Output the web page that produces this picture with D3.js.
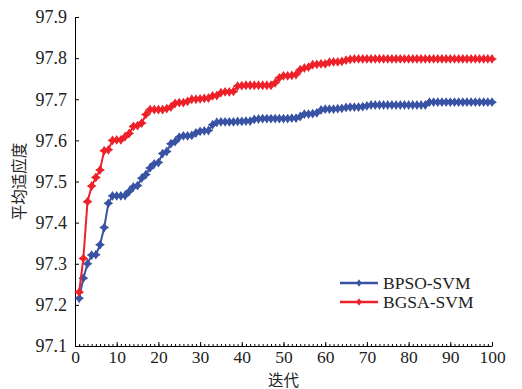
<!DOCTYPE html>
<html>
<head>
<meta charset="utf-8">
<script src="https://d3js.org/d3.v7.min.js"></script>
<style>
  body { margin: 0; background: #fff; }
  .tick text { font-family: "Liberation Serif", "Times New Roman", serif; font-size: 18px; fill: #222; }
  .x-axis .tick text { font-size: 17.5px; }
  .axis path, .axis line { stroke: #000; stroke-width: 1; }
  .axis-title { font-family: "Noto Sans CJK SC", sans-serif; font-size: 15.5px; fill: #222; }
  .legend text { font-family: "Liberation Serif", "Times New Roman", serif; font-size: 17.5px; fill: #222; }
</style>
</head>
<body>
<svg id="chart" width="522" height="389"></svg>
<script>
// iterations 1..100
const iterations = d3.range(1, 101);
const seriesNames = ["BPSO-SVM", "BGSA-SVM"];
const seriesColors = ["#3953a4", "#ed2129"];

const bpso = [
  97.216, 97.265, 97.300, 97.321, 97.322, 97.346, 97.388, 97.447, 97.465, 97.465,
  97.465, 97.466, 97.476, 97.487, 97.490, 97.508, 97.517, 97.533, 97.543, 97.546,
  97.568, 97.573, 97.592, 97.597, 97.608, 97.611, 97.611, 97.612, 97.618, 97.622,
  97.623, 97.624, 97.638, 97.644, 97.645, 97.645, 97.645, 97.645, 97.646, 97.646,
  97.647, 97.647, 97.651, 97.652, 97.653, 97.653, 97.653, 97.653, 97.653, 97.653,
  97.653, 97.654, 97.654, 97.658, 97.664, 97.664, 97.665, 97.667, 97.674, 97.676,
  97.676, 97.676, 97.677, 97.678, 97.680, 97.681, 97.681, 97.681, 97.682, 97.684,
  97.686, 97.686, 97.686, 97.686, 97.686, 97.686, 97.686, 97.686, 97.686, 97.686,
  97.686, 97.686, 97.686, 97.686, 97.693, 97.693, 97.693, 97.693, 97.693, 97.693,
  97.693, 97.693, 97.693, 97.693, 97.693, 97.693, 97.693, 97.693, 97.693, 97.693
];

const bgsa = [
  97.231, 97.313, 97.451, 97.489, 97.510, 97.528, 97.575, 97.577, 97.600, 97.601,
  97.601, 97.609, 97.617, 97.634, 97.636, 97.642, 97.663, 97.675, 97.675, 97.675,
  97.675, 97.677, 97.681, 97.690, 97.692, 97.692, 97.695, 97.700, 97.700, 97.701,
  97.702, 97.703, 97.708, 97.709, 97.716, 97.718, 97.718, 97.719, 97.732, 97.733,
  97.734, 97.734, 97.734, 97.734, 97.734, 97.734, 97.734, 97.740, 97.752, 97.757,
  97.757, 97.758, 97.760, 97.772, 97.776, 97.778, 97.784, 97.785, 97.786, 97.786,
  97.790, 97.791, 97.791, 97.792, 97.795, 97.797, 97.798, 97.798, 97.798, 97.798,
  97.798, 97.798, 97.798, 97.798, 97.798, 97.798, 97.798, 97.798, 97.798, 97.798,
  97.798, 97.798, 97.798, 97.798, 97.798, 97.798, 97.798, 97.798, 97.798, 97.798,
  97.798, 97.798, 97.798, 97.798, 97.798, 97.798, 97.798, 97.798, 97.798, 97.798
];

const xTicks = d3.range(0, 101, 10);
const yTicks = [97.1, 97.2, 97.3, 97.4, 97.5, 97.6, 97.7, 97.8, 97.9];

const svg = d3.select("#chart");
const x = d3.scaleLinear().domain([0, 100]).range([75, 492]);
const y = d3.scaleLinear().domain([97.1, 97.9]).range([346, 17]);

// x axis: minor ticks every 1, major every 10, pointing inward
svg.append("g")
  .attr("class", "axis")
  .attr("transform", `translate(0,${y(97.1)})`)
  .call(d3.axisBottom(x).tickValues(d3.range(0, 101, 1)).tickSize(-2).tickFormat(""))
  .call(g => g.select(".domain").remove());

svg.append("g")
  .attr("class", "axis x-axis")
  .attr("transform", `translate(0,${y(97.1)})`)
  .call(d3.axisBottom(x).tickValues(xTicks).tickSizeInner(-4).tickSizeOuter(0).tickPadding(5));

svg.append("g")
  .attr("class", "axis")
  .attr("transform", `translate(${x(0)},0)`)
  .call(d3.axisLeft(y).tickValues(yTicks).tickSizeInner(-4).tickSizeOuter(0)
    .tickPadding(8).tickFormat(d3.format(".1f")));

// 4-point star marker
const star4 = {
  draw(ctx, size) {
    const r = Math.sqrt(size) * 0.75, s = r * 0.4;
    ctx.moveTo(0, -r);
    ctx.lineTo(s, -s); ctx.lineTo(r, 0); ctx.lineTo(s, s);
    ctx.lineTo(0, r); ctx.lineTo(-s, s); ctx.lineTo(-r, 0); ctx.lineTo(-s, -s);
    ctx.closePath();
  }
};
const marker = d3.symbol().type(star4).size(26);

const line = d3.line().x(d => x(d[0])).y(d => y(d[1]));
[bpso, bgsa].forEach((vals, k) => {
  const pts = iterations.map((it, i) => [it, vals[i]]);
  svg.append("path")
    .attr("d", line(pts))
    .attr("fill", "none")
    .attr("stroke", seriesColors[k])
    .attr("stroke-width", 2);
  svg.append("g").selectAll("path")
    .data(pts).enter().append("path")
    .attr("transform", d => `translate(${x(d[0])},${y(d[1])})`)
    .attr("d", marker)
    .attr("fill", seriesColors[k])
    .attr("stroke", seriesColors[k])
    .attr("stroke-width", 1.2);
});

// axis titles
svg.append("text")
  .attr("class", "axis-title")
  .attr("x", x(50))
  .attr("y", 386)
  .attr("text-anchor", "middle")
  .text("迭代");

svg.append("text")
  .attr("class", "axis-title")
  .attr("transform", `translate(25,${y(97.5)}) rotate(-90)`)
  .attr("text-anchor", "middle")
  .text("平均适应度");

// legend
const legend = svg.append("g").attr("class", "legend");
seriesNames.forEach((name, k) => {
  const ly = 283 + k * 19;
  legend.append("line")
    .attr("x1", 340).attr("x2", 378).attr("y1", ly).attr("y2", ly)
    .attr("stroke", seriesColors[k]).attr("stroke-width", 2.5);
  legend.append("path")
    .attr("transform", `translate(359,${ly})`)
    .attr("d", marker)
    .attr("fill", seriesColors[k]);
  legend.append("text")
    .attr("x", 383).attr("y", ly).attr("dy", "0.35em")
    .text(name);
});
</script>
</body>
</html>
